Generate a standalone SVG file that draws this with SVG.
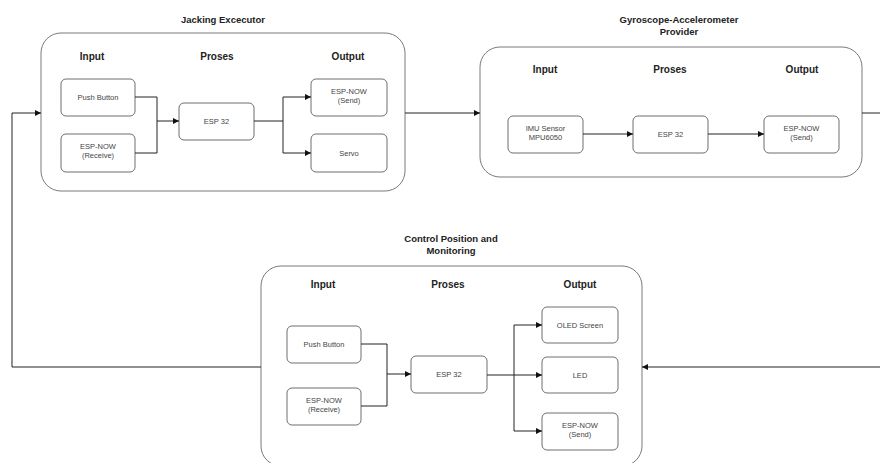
<svg xmlns="http://www.w3.org/2000/svg" width="880" height="463" viewBox="0 0 880 463">
<defs>
<marker id="ah" markerWidth="7" markerHeight="6" refX="6" refY="3" orient="auto" markerUnits="userSpaceOnUse">
<path d="M0,0 L6,3 L0,6 Z" fill="#111"/>
</marker>
<style>
.cont{fill:#fff;stroke:#7a7a7a;stroke-width:1}
.node{fill:#fff;stroke:#6e6e6e;stroke-width:1}
.title{font-family:"Liberation Sans",Arial,sans-serif;font-size:9.5px;font-weight:bold;fill:#222;text-anchor:middle}
.hdr{font-family:"Liberation Sans",Arial,sans-serif;font-size:10px;font-weight:bold;fill:#222;text-anchor:middle}
.txt{font-family:"Liberation Sans",Arial,sans-serif;font-size:7.5px;fill:#444;text-anchor:middle}
.conn{fill:none;stroke:#222;stroke-width:1}
</style>
</defs>
<rect width="880" height="463" fill="#fff"/>

<g id="jacking-executor">
<text class="title" x="223" y="22.5">Jacking Excecutor</text>
<rect class="cont" x="41" y="33" width="364" height="158" rx="20"/>
<text class="hdr" x="92" y="59.5">Input</text>
<text class="hdr" x="217" y="59.5">Proses</text>
<text class="hdr" x="348" y="59.5">Output</text>
</g>
<g id="je-push-button"><rect class="node" x="61" y="79" width="74" height="37" rx="5"/><text class="txt" x="98" y="100">Push Button</text></g>
<g id="je-espnow-receive"><rect class="node" x="61" y="134" width="74" height="38" rx="5"/><text class="txt" x="98" y="149">ESP-NOW</text><text class="txt" x="98" y="158">(Receive)</text></g>
<g id="je-esp32"><rect class="node" x="179" y="103" width="75" height="37" rx="5"/><text class="txt" x="216.5" y="124">ESP 32</text></g>
<g id="je-espnow-send"><rect class="node" x="311" y="79" width="76" height="37" rx="5"/><text class="txt" x="349" y="94">ESP-NOW</text><text class="txt" x="349" y="103">(Send)</text></g>
<g id="je-servo"><rect class="node" x="311" y="134" width="76" height="38" rx="5"/><text class="txt" x="349" y="156">Servo</text></g>

<g id="gyro-accel-provider">
<text class="title" x="679" y="22.5">Gyroscope-Accelerometer</text>
<text class="title" x="679" y="35">Provider</text>
<rect class="cont" x="480" y="47" width="382" height="130" rx="20"/>
<text class="hdr" x="545" y="72.5">Input</text>
<text class="hdr" x="670" y="72.5">Proses</text>
<text class="hdr" x="802" y="72.5">Output</text>
</g>
<g id="gp-imu"><rect class="node" x="508" y="116" width="75" height="37" rx="5"/><text class="txt" x="545.5" y="131">IMU Sensor</text><text class="txt" x="545.5" y="140">MPU6050</text></g>
<g id="gp-esp32"><rect class="node" x="633" y="116" width="75" height="37" rx="5"/><text class="txt" x="670.5" y="137">ESP 32</text></g>
<g id="gp-espnow-send"><rect class="node" x="764" y="116" width="75" height="37" rx="5"/><text class="txt" x="801.5" y="131">ESP-NOW</text><text class="txt" x="801.5" y="140">(Send)</text></g>

<g id="control-position-monitoring">
<text class="title" x="451" y="241.5">Control Position and</text>
<text class="title" x="451" y="253.5">Monitoring</text>
<rect class="cont" x="261" y="266" width="381" height="200" rx="20"/>
<text class="hdr" x="323" y="287.5">Input</text>
<text class="hdr" x="448" y="287.5">Proses</text>
<text class="hdr" x="580" y="287.5">Output</text>
</g>
<g id="cp-push-button"><rect class="node" x="287" y="326" width="74" height="37" rx="5"/><text class="txt" x="324" y="347">Push Button</text></g>
<g id="cp-espnow-receive"><rect class="node" x="287" y="388" width="74" height="37" rx="5"/><text class="txt" x="324" y="403">ESP-NOW</text><text class="txt" x="324" y="412">(Receive)</text></g>
<g id="cp-esp32"><rect class="node" x="411" y="356" width="76" height="37" rx="5"/><text class="txt" x="449" y="377">ESP 32</text></g>
<g id="cp-oled"><rect class="node" x="542" y="307" width="76" height="36" rx="5"/><text class="txt" x="580" y="327.5">OLED Screen</text></g>
<g id="cp-led"><rect class="node" x="542" y="357" width="76" height="36" rx="5"/><text class="txt" x="580" y="377.5">LED</text></g>
<g id="cp-espnow-send"><rect class="node" x="542" y="413" width="76" height="37" rx="5"/><text class="txt" x="580" y="428">ESP-NOW</text><text class="txt" x="580" y="437">(Send)</text></g>

<g id="connectors">
<path class="conn" d="M135,97 H157 V121"/>
<path class="conn" d="M135,153 H157 V121 H179" marker-end="url(#ah)"/>
<path class="conn" d="M254,121 H283 V97 H311" marker-end="url(#ah)"/>
<path class="conn" d="M283,121 V153 H311" marker-end="url(#ah)"/>
<path class="conn" d="M583,134 H633" marker-end="url(#ah)"/>
<path class="conn" d="M708,134 H764" marker-end="url(#ah)"/>
<path class="conn" d="M361,344 H387 V374"/>
<path class="conn" d="M361,406 H387 V374 H411" marker-end="url(#ah)"/>
<path class="conn" d="M487,375 H542" marker-end="url(#ah)"/>
<path class="conn" d="M514,375 V325 H542" marker-end="url(#ah)"/>
<path class="conn" d="M514,375 V431 H542" marker-end="url(#ah)"/>
<path class="conn" d="M405,113 H480" marker-end="url(#ah)"/>
<path class="conn" d="M862,113 H890 V367 H642" marker-end="url(#ah)"/>
<path class="conn" d="M261,367 H12 V113 H41" marker-end="url(#ah)"/>
</g>
</svg>
